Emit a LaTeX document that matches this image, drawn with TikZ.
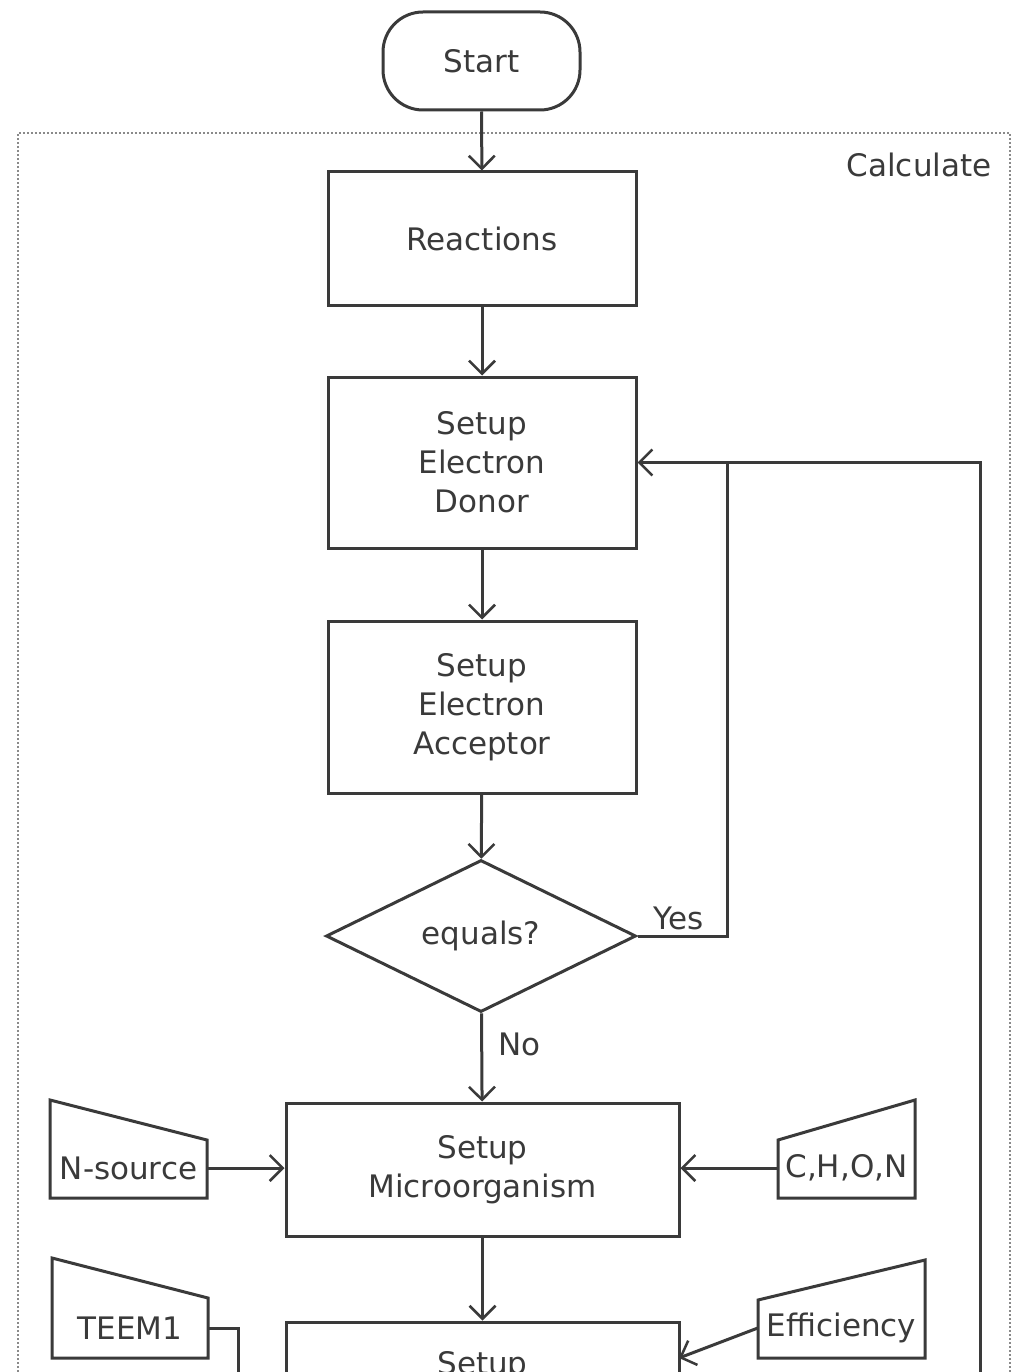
\documentclass[tikz,border=0pt]{standalone}
\usepackage{fontspec}
\setmainfont{DejaVu Sans}
\usetikzlibrary{shapes.geometric,arrows.meta,calc}
\definecolor{ink}{HTML}{3A3A3A}
\definecolor{framegray}{HTML}{8A8A8A}
\begin{document}
\begin{tikzpicture}[x=1pt,y=-1pt,
  every node/.style={font=\fontsize{31}{39}\selectfont, text=ink},
  line/.style={draw=ink, line width=3pt},
  flow/.style={line, -{Straight Barb[length=13pt,width=26pt,line width=2.5pt]}},
  process/.style={line, rectangle, align=center, inner sep=0pt},
  decide/.style={line, diamond, inner sep=0pt, minimum width=310pt, minimum height=152pt},
  terminal/.style={line, rectangle, rounded corners=40pt, minimum width=197pt, minimum height=98pt},
  inputtext/.style={inner sep=0pt, minimum height=40pt},
  inputshape/.style={draw=ink, line width=3pt, line join=miter},
  frame/.style={draw=framegray, line width=2pt, dotted}]

\clip (0,0) rectangle (1021,1372);
\fill[white] (0,0) rectangle (1021,1372);

% dotted group frame
\draw[frame] (18,1420) -- (18,133) -- (1010,133) -- (1010,1420);
\node[anchor=east] (calclabel) at (995,165) {Calculate};

% main chain
\node[terminal] (start) at (481.5,61) {Start};
\node[process, minimum width=308pt, minimum height=133pt] (react) at (482,238.5) {Reactions};
\node[process, minimum width=308pt, minimum height=171pt] (donor) at (482,462.5) {Setup\\Electron\\Donor};
\node[process, minimum width=308pt, minimum height=172pt] (accept) at (482,707) {Setup\\Electron\\Acceptor};
\node[decide] (eq) at (481,936) {equals?};
\node[process, minimum width=393pt, minimum height=133pt] (micro) at (482.5,1169.5) {Setup\\Microorganism};
\node[process, minimum width=393pt, minimum height=133pt] (setupb) at (482.5,1388.5) {};
\node (setupbtext) at (482.5,1366) {Setup};

% manual inputs
\draw[inputshape] (50,1100) -- (207,1140) -- (207,1198) -- (50,1198) -- cycle;
\node[inputtext, minimum width=157pt] (nsrc) at (128.5,1168) {N-source};
\draw[inputshape] (778,1140) -- (915,1100) -- (915,1198) -- (778,1198) -- cycle;
\node[inputtext, minimum width=137pt] (chon) at (846.5,1168) {C,H,O,N};
\draw[inputshape] (52,1258) -- (208,1298) -- (208,1358) -- (52,1358) -- cycle;
\node[inputtext, minimum width=156pt] (teem) at (130,1328) {TEEM1};
\draw[inputshape] (758,1300) -- (925,1260) -- (925,1358) -- (758,1358) -- cycle;
\node[inputtext, minimum width=167pt] (eff) at (841.5,1328) {Efficiency};

% helper points for routed connectors
\coordinate (yescorner) at (727,936);
\coordinate (yesjoin) at (727,462.5);
\coordinate (loopbottom) at (980,1420);
\coordinate (loopcorner) at (980,462.5);
\coordinate (teemdown) at (238,1420);
\coordinate (effin) at (679,1358);

% connectors
\draw[flow] (start) -- (react);
\draw[flow] (react) -- (donor);
\draw[flow] (donor) -- (accept);
\draw[flow] (accept) -- (eq);
\draw[flow] (eq) -- node[pos=0.35, right=12pt] {No} (micro);
\draw[line] (eq.east) -- node[midway, above=1pt, xshift=-4pt] {Yes} (yescorner) -- (yesjoin);
\draw[flow] (loopbottom) -- (loopcorner) -- (donor.east);
\draw[flow] (nsrc.east) -- (micro.west |- nsrc.east);
\draw[flow] (chon.west) -- (micro.east |- chon.west);
\draw[flow] (micro) -- (setupb);
\draw[line] (teem.east) -| (teemdown);
\draw[flow] (eff.west) -- (effin);
\end{tikzpicture}
\end{document}
